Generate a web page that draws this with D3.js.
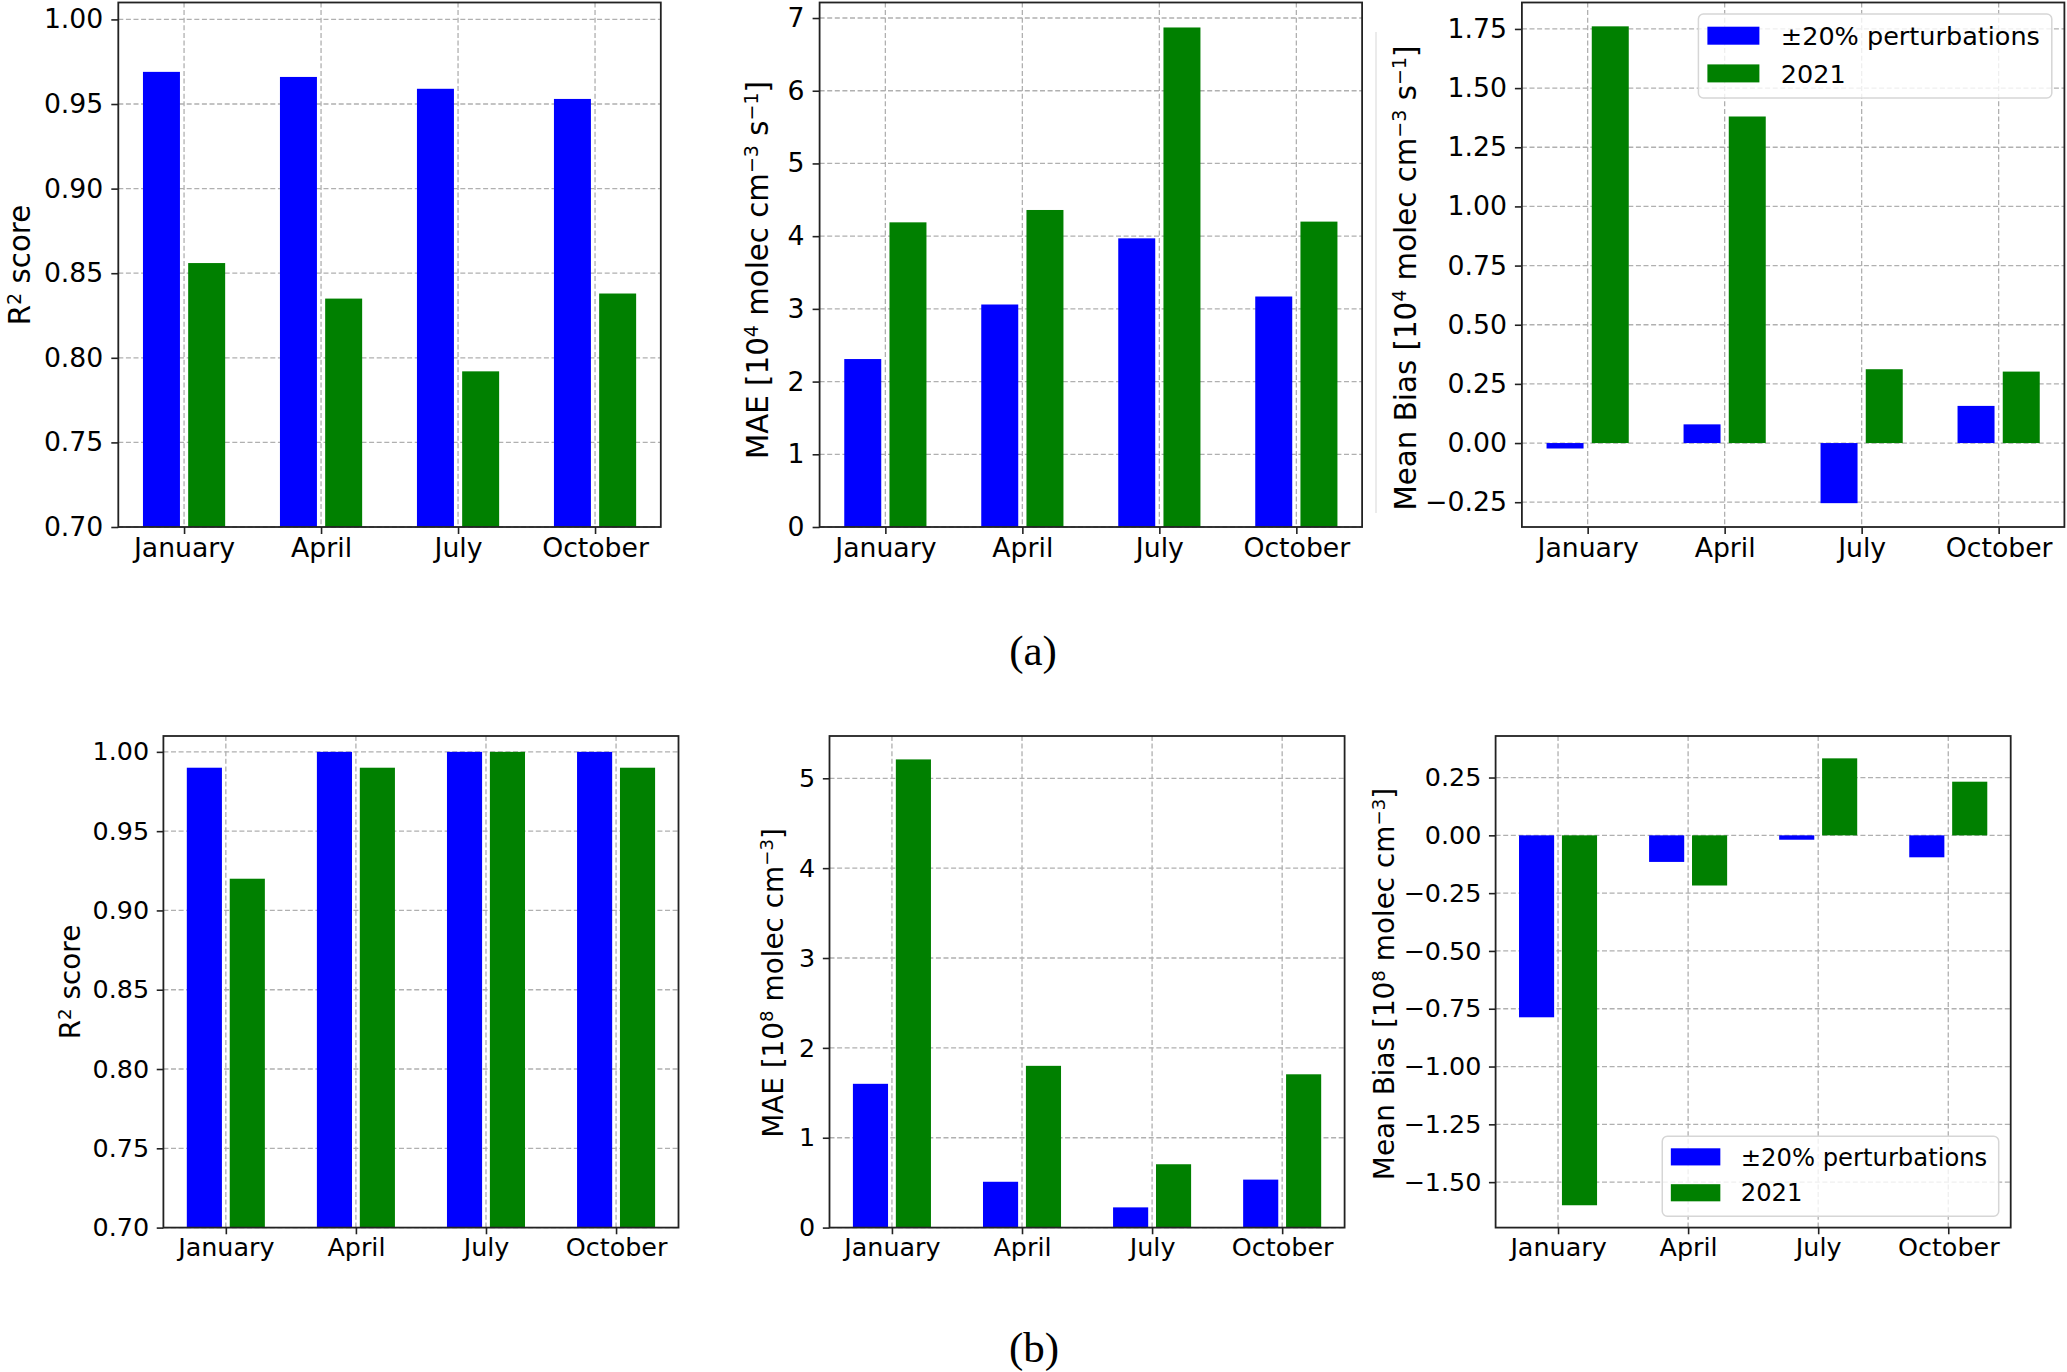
<!DOCTYPE html>
<html>
<head>
<meta charset="utf-8">
<script src="https://cdn.jsdelivr.net/npm/d3@7"></script>
<style>
  body { margin: 0; background: #fff; }
  text { font-family: "DejaVu Sans", sans-serif; fill: #000; }
</style>
</head>
<body>
<script>
// months on the x axis and the two series
const months = ["January", "April", "July", "October"];
const seriesNames = ["±20% perturbations", "2021"];

// (a) values
const r2A_pert = [0.969, 0.966, 0.959, 0.953];
const r2A_2021 = [0.856, 0.835, 0.792, 0.838];
const maeA_pert = [2.31, 3.06, 3.97, 3.17];
const maeA_2021 = [4.19, 4.36, 6.87, 4.20];
const biasA_pert = [-0.023, 0.079, -0.254, 0.157];
const biasA_2021 = [1.761, 1.380, 0.312, 0.302];

// (b) values
const r2B_pert = [0.99, 1.00, 1.00, 1.00];
const r2B_2021 = [0.92, 0.99, 1.00, 0.99];
const maeB_pert = [1.60, 0.51, 0.225, 0.534];
const maeB_2021 = [5.21, 1.80, 0.705, 1.706];
const biasB_pert = [-0.787, -0.115, -0.019, -0.095];
const biasB_2021 = [-1.60, -0.217, 0.333, 0.232];

// tick labels
const r2Ticks = [0.70, 0.75, 0.80, 0.85, 0.90, 0.95, 1.00];
const maeATicks = [0, 1, 2, 3, 4, 5, 6, 7];
const biasATicks = [-0.25, 0, 0.25, 0.5, 0.75, 1.0, 1.25, 1.5, 1.75];
const maeBTicks = [0, 1, 2, 3, 4, 5];
const biasBTicks = [-1.5, -1.25, -1.0, -0.75, -0.5, -0.25, 0, 0.25];

const W = 2067, H = 1372;
const colors = ["#0000ff", "#008000"];
const barW = 0.27, barOff = 0.165;

const svg = d3.select("body").append("svg")
  .attr("width", W).attr("height", H);

// matplotlib style autoscale: 5% margin
function autoDomain(a, b, zeroBottom) {
  const all = a.concat(b, [0]);
  const lo = d3.min(all), hi = d3.max(all);
  const m = (hi - lo) * 0.05;
  return [zeroBottom ? 0 : lo - m, hi + m];
}

const labR2 = [["R", 0], ["2", 1], [" score", 0]];
const labMaeA = [["MAE [10", 0], ["4", 1], [" molec cm", 0], ["\u22123", 1], [" s", 0], ["\u22121", 1], ["]", 0]];
const labBiasA = [["Mean Bias [10", 0], ["4", 1], [" molec cm", 0], ["\u22123", 1], [" s", 0], ["\u22121", 1], ["]", 0]];
const labMaeB = [["MAE [10", 0], ["8", 1], [" molec cm", 0], ["\u22123", 1], ["]", 0]];
const labBiasB = [["Mean Bias [10", 0], ["8", 1], [" molec cm", 0], ["\u22123", 1], ["]", 0]];

const sA = 1, sB = 0.952;
const panels = [
  {box: [118.3, 2.5, 542.5, 524.5], s: sA, pert: r2A_pert, y21: r2A_2021, domain: [0.7, 1.01], ticks: r2Ticks, fmt: ".2f", label: labR2, labelX: 30.4, labelY: 265},
  {box: [819.6, 2.5, 542.5, 524.5], s: sA, pert: maeA_pert, y21: maeA_2021, domain: autoDomain(maeA_pert, maeA_2021, true), ticks: maeATicks, fmt: "d", label: labMaeA, labelX: 768, labelY: 270},
  {box: [1521.9, 2.5, 542.5, 524.5], s: sA, pert: biasA_pert, y21: biasA_2021, domain: autoDomain(biasA_pert, biasA_2021, false), ticks: biasATicks, fmt: ".2f", label: labBiasA, labelX: 1416, labelY: 278, legend: "top"},
  {box: [163.4, 736, 515.1, 491.6], s: sB, pert: r2B_pert, y21: r2B_2021, domain: [0.7, 1.01], ticks: r2Ticks, fmt: ".2f", label: labR2, labelX: 80.4, labelY: 982},
  {box: [829.5, 736, 515.1, 491.6], s: sB, pert: maeB_pert, y21: maeB_2021, domain: autoDomain(maeB_pert, maeB_2021, true), ticks: maeBTicks, fmt: "d", label: labMaeB, labelX: 782.6, labelY: 983},
  {box: [1495.6, 736, 515.1, 491.6], s: sB, pert: biasB_pert, y21: biasB_2021, domain: autoDomain(biasB_pert, biasB_2021, false), ticks: biasBTicks, fmt: ".2f", label: labBiasB, labelX: 1393.8, labelY: 984, legend: "bottom"}
];

function addLabel(g, parts, x, y, size) {
  const t = g.append("text")
    .attr("transform", `translate(${x},${y}) rotate(-90)`)
    .attr("text-anchor", "middle")
    .attr("font-size", size);
  const shift = size * 0.33;
  let up = false;
  parts.forEach(([s, sup]) => {
    const ts = t.append("tspan").text(s);
    if (sup) { ts.attr("font-size", size * 0.65); if (!up) { ts.attr("dy", -shift); up = true; } }
    else if (up) { ts.attr("dy", shift); up = false; }
  });
}

function drawPanel(p) {
  const [left, top, width, height] = p.box;
  const s = p.s;
  const x = d3.scaleLinear().domain([-0.48, 3.48]).range([left, left + width]);
  const y = d3.scaleLinear().domain(p.domain).range([top + height, top]);
  const base = Math.max(p.domain[0], 0);
  const g = svg.append("g");
  const idx = months.map((m, i) => i);

  // grid
  const grid = g.append("g").attr("stroke", "#b0b0b0").attr("stroke-width", 1.3)
    .attr("stroke-dasharray", "5,2.6");
  grid.selectAll(".h").data(p.ticks).join("line").attr("class", "h")
    .attr("x1", left).attr("x2", left + width)
    .attr("y1", d => y(d)).attr("y2", d => y(d));
  grid.selectAll(".v").data(idx).join("line").attr("class", "v")
    .attr("x1", d => x(d)).attr("x2", d => x(d))
    .attr("y1", top).attr("y2", top + height);

  // bars
  [p.pert, p.y21].forEach((vals, k) => {
    const off = k === 0 ? -barOff : barOff;
    g.append("g").selectAll("rect").data(vals).join("rect")
      .attr("x", (d, i) => x(i + off - barW / 2))
      .attr("width", (d, i) => x(i + off + barW / 2) - x(i + off - barW / 2))
      .attr("y", d => y(Math.max(d, base)))
      .attr("height", d => Math.abs(y(d) - y(base)))
      .attr("fill", colors[k]);
  });

  // axes
  const fs = 26.7 * s;
  const yAxis = d3.axisLeft(y).tickValues(p.ticks).tickFormat(d3.format(p.fmt))
    .tickSize(7 * s).tickPadding(8 * s);
  const xAxis = d3.axisBottom(x).tickValues(idx).tickFormat(i => months[i])
    .tickSize(7 * s).tickPadding(4 * s);
  [g.append("g").attr("transform", `translate(${left},0)`).call(yAxis),
   g.append("g").attr("transform", `translate(0,${top + height})`).call(xAxis)]
    .forEach(a => {
      a.select(".domain").remove();
      a.selectAll("line").attr("stroke", "#222").attr("stroke-width", 1.6);
      a.selectAll("text").attr("font-size", fs).attr("font-family", "DejaVu Sans").attr("fill", "#000");
    });

  g.append("rect").attr("x", left).attr("y", top).attr("width", width).attr("height", height)
    .attr("fill", "none").attr("stroke", "#222").attr("stroke-width", 1.8);

  addLabel(g, p.label, p.labelX, p.labelY, 29.3 * s);

  if (p.legend) {
    const lw = 353.4 * s, lh = 84 * s;
    const lx = left + width - 12.6 * s - lw;
    const ly = p.legend === "top" ? top + 11.5 * s : top + height - 12 * s - lh;
    const lg = g.append("g");
    lg.append("rect").attr("x", lx).attr("y", ly).attr("width", lw).attr("height", lh)
      .attr("rx", 5).attr("fill", "#fff").attr("fill-opacity", 0.8)
      .attr("stroke", "#d6d6d6").attr("stroke-width", 1.5);
    seriesNames.forEach((name, k) => {
      const cy = ly + (21.7 + k * 37.7) * s;
      lg.append("rect").attr("x", lx + 9 * s).attr("y", cy - 9 * s)
        .attr("width", 52 * s).attr("height", 18 * s).attr("fill", colors[k]);
      lg.append("text").attr("x", lx + 82.4 * s).attr("y", cy).attr("dy", "0.36em")
        .attr("font-size", 25.5 * s).text(name);
    });
  }
}

panels.forEach(drawPanel);

// faint line left over in the source image
svg.append("line").attr("x1", 1376).attr("x2", 1376).attr("y1", 32).attr("y2", 513)
  .attr("stroke", "#e4e4e4").attr("stroke-width", 1.5);

// captions
const captions = [["(a)", 1033, 665], ["(b)", 1034, 1362]];
svg.selectAll(".cap").data(captions).join("text").attr("class", "cap")
  .attr("x", d => d[1]).attr("y", d => d[2])
  .attr("text-anchor", "middle")
  .style("font-family", "'Liberation Serif', 'Times New Roman', serif")
  .attr("font-size", 43)
  .text(d => d[0]);
</script>
</body>
</html>
